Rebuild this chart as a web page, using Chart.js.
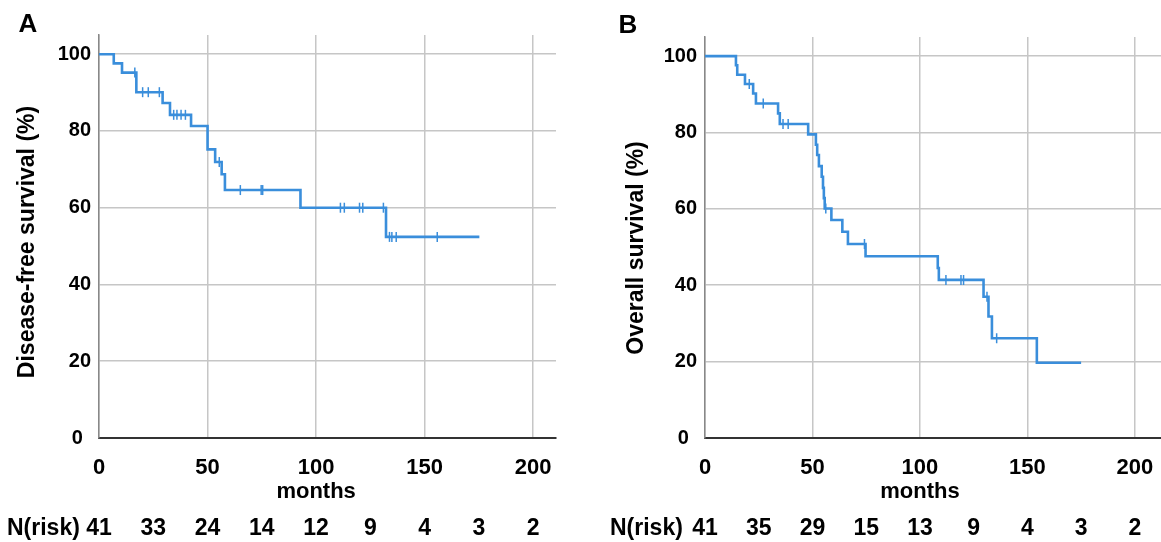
<!DOCTYPE html>
<html><head><meta charset="utf-8">
<script src="https://cdn.jsdelivr.net/npm/chart.js@4"></script>
<style>
html,body{margin:0;padding:0;background:#fff;}
#wrap{position:relative;width:1161px;height:542px;overflow:hidden;}
.c{position:absolute;top:0;height:542px;}
</style></head><body>
<div id="wrap">
<div class="c" style="left:0;width:580px"><canvas id="a"></canvas></div>
<div class="c" style="left:580px;width:588px"><canvas id="b"></canvas></div>
</div>
<script>
// ---- data (months, survival %) ----
const dfsTimes  = [0, 6.8, 10.6, 17.2, 29.3, 32.7, 42.4, 50.0, 53.5, 56.5, 58.0, 92.8, 132.2, 175.2];
const dfsSurv   = [100, 97.6, 95.2, 90.1, 87.3, 84.2, 81.3, 75.2, 71.9, 68.7, 64.6, 60.0, 52.4, 52.4];
const dfsCensor = [16.5, 20.1, 22.7, 27.8, 34.4, 35.9, 37.8, 39.8, 55.4, 65.1, 74.7, 75.4, 111.2, 113.0, 120.0, 121.5, 131.0, 133.8, 134.9, 136.9, 155.8];

const osTimes  = [0, 14.4, 15.0, 18.6, 22.4, 23.7, 34.0, 34.8, 48.0, 51.6, 52.2, 53.0, 54.3, 54.9, 55.3, 55.7, 58.8, 63.9, 66.5, 74.7, 108.3, 108.8, 129.6, 131.9, 133.5, 154.4, 175.0];
const osSurv   = [100, 97.6, 95.1, 92.7, 90.2, 87.6, 85.0, 82.2, 79.5, 76.8, 74.1, 71.2, 68.4, 65.5, 62.8, 60.1, 57.1, 54.0, 50.8, 47.6, 44.5, 41.4, 37.0, 31.8, 26.1, 19.7, 19.7];
const osCensor = [20.6, 27.1, 36.3, 38.7, 56.2, 74.2, 112.1, 119.1, 120.3, 131.2, 135.7];

const riskTimes = [0, 25, 50, 75, 100, 125, 150, 175, 200];
const dfsRisk   = [41, 33, 24, 14, 12, 9, 4, 3, 2];
const osRisk    = [41, 35, 29, 15, 13, 9, 4, 3, 2];

const xTicks = [0, 50, 100, 150, 200];
const yTicks = [0, 20, 40, 60, 80, 100];

const BLUE = '#3a8edb';
const FONT = '"Liberation Sans", Arial, sans-serif';

function levelAt(times, surv, t) {
  let v = surv[0];
  for (let i = 0; i < times.length; i++) { if (times[i] <= t) v = surv[i]; }
  return v;
}

const textPlugin = {
  id: 'texts',
  afterDraw(chart, args, o) {
    const ctx = chart.ctx;
    const xs = chart.scales.x;
    ctx.save();
    ctx.fillStyle = '#000';
    // panel letter
    ctx.font = 'bold 26px ' + FONT;
    ctx.textAlign = 'center'; ctx.textBaseline = 'middle';
    ctx.fillText(o.letter, o.letterX, o.letterY);
    // y title
    ctx.save();
    ctx.translate(o.yTitleX, o.yTitleY);
    ctx.rotate(-Math.PI / 2);
    ctx.font = 'bold 23px ' + FONT;
    ctx.fillText(o.yTitle, 0, 0);
    ctx.restore();
    // x title
    ctx.font = 'bold 22px ' + FONT;
    ctx.fillText('months', (xs.getPixelForValue(100)), o.monthsY);
    // risk row
    ctx.font = 'bold 23px ' + FONT;
    ctx.textAlign = 'left';
    ctx.fillText('N(risk)', o.riskLabelX, o.riskY);
    ctx.textAlign = 'center';
    o.risk.forEach((n, i) => ctx.fillText(String(n), xs.getPixelForValue(riskTimes[i]), o.riskY));
    ctx.restore();
  }
};

function makeChart(id, times, surv, censor, risk, o) {
  const line = times.map((t, i) => ({x: t, y: surv[i]}));
  const cens = censor.map(t => ({x: t, y: levelAt(times, surv, t)}));
  return new Chart(document.getElementById(id), {
    type: 'line',
    data: { datasets: [
      { data: line, stepped: true, borderColor: BLUE, borderWidth: 2.6, pointRadius: 0, fill: false },
      { type: 'scatter', data: cens, pointStyle: 'line', rotation: 90, radius: 5, borderColor: BLUE, borderWidth: 1.5, showLine: false }
    ]},
    options: {
      responsive: true, maintainAspectRatio: false, animation: false,
      layout: { padding: { left: 0, top: o.top, right: o.right, bottom: 0 } },
      plugins: { legend: { display: false }, tooltip: { enabled: false }, texts: o },
      scales: {
        x: {
          type: 'linear', min: 0, max: o.xmax,
          afterBuildTicks: s => { s.ticks = xTicks.map(v => ({value: v})); },
          ticks: { font: { size: 22, weight: 'bold', family: FONT }, color: '#000', padding: 17, maxRotation: 0, autoSkip: false },
          grid: { color: '#c6c6c6', lineWidth: 1.5, drawTicks: false },
          border: { color: '#333', width: 2 },
          afterFit: s => { s.height = 542 - 438; s.paddingLeft = 0; s.paddingRight = 0; }
        },
        y: {
          type: 'linear', min: 0, max: 105,
          afterBuildTicks: s => { s.ticks = yTicks.map(v => ({value: v})); },
          ticks: { font: { size: 20, weight: 'bold', family: FONT }, color: '#000', padding: 8,
                   callback: v => v === 0 ? '0\u2009\u2009' : String(v) },
          grid: { color: '#c6c6c6', lineWidth: 1.5, drawTicks: false },
          border: { color: '#888', width: 1.5 },
          afterFit: s => { s.width = o.yw; }
        }
      }
    },
    plugins: [textPlugin]
  });
}

makeChart('a', dfsTimes, dfsSurv, dfsCensor, dfsRisk, {
  letter: 'A', letterX: 28, letterY: 25, yTitle: 'Disease-free survival (%)', yTitleX: 28, yTitleY: 242,
  monthsY: 492, riskY: 529, riskLabelX: 7, risk: dfsRisk,
  top: 35, right: 24, yw: 99, xmax: 210.5
});
makeChart('b', osTimes, osSurv, osCensor, osRisk, {
  letter: 'B', letterX: 48, letterY: 26, yTitle: 'Overall survival (%)', yTitleX: 57, yTitleY: 248,
  monthsY: 492, riskY: 529, riskLabelX: 30, risk: osRisk,
  top: 37, right: 0, yw: 125, xmax: 212.4
});
</script>
</body></html>
